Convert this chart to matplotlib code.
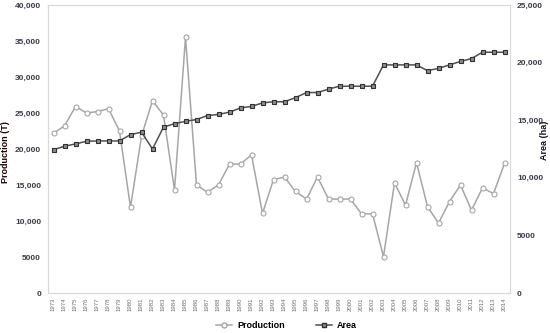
import matplotlib.pyplot as plt
from matplotlib.lines import Line2D

plt.rcParams['font.family'] = ['Liberation Sans', 'DejaVu Sans']

years = list(range(1973, 2015))

production = [22200, 23200, 25900, 25000, 25200, 25600, 22500, 11900, 21800, 26700,
              24700, 14300, 35500, 15000, 14000, 15000, 17900, 17900, 19200, 11050,
              15750, 16100, 14100, 13050, 16100, 13050, 13050, 13050, 11000, 11000,
              5050, 15300, 12200, 18100, 12000, 9700, 12700, 15000, 11500, 14600,
              13800, 18000]

area = [12440, 12740, 12940, 13170, 13200, 13200, 13200, 13750, 13960, 12500,
        14400, 14700, 14900, 15060, 15400, 15500, 15700, 16060, 16200, 16500,
        16600, 16600, 16960, 17400, 17400, 17700, 17950, 17950, 17950, 17950,
        19800, 19800, 19800, 19800, 19300, 19500, 19800, 20100, 20350, 20900,
        20900, 20900]

left_ticks = [0, 5000, 10000, 15000, 20000, 25000, 30000, 35000, 40000]
left_labels = ['0', '5000', '10,000', '15,000', '20,000', '25,000', '30,000', '35,000', '40,000']
right_ticks = [0, 5000, 10000, 15000, 20000, 25000]
right_labels = ['0', '5000', '10,000', '15,000', '20,000', '25,000']

prod_color = '#a6a6a6'
area_color = '#505050'
label_color = '#3a3a4a'

fig = plt.figure(figsize=(5.5, 3.33), dpi=100)
ax1 = fig.add_axes([48 / 550, 40 / 333, 462 / 550, 288 / 333])
ax2 = ax1.twinx()

ax1.plot(years, production, '-', color=prod_color, lw=1.1, marker='o', ms=3.6,
         mfc='white', mec=prod_color, mew=0.8, zorder=3)
ax2.plot(years, area, '-', color=area_color, lw=1.1, marker='s', ms=3.3,
         mfc='#8c8c8c', mec='#303030', mew=0.8, zorder=3)

ax1.set_xlim(1972.5, 2014.5)
ax1.set_ylim(0, 40000)
ax2.set_ylim(0, 25000)

ax1.set_xticks(years)
ax1.set_xticklabels([str(y) for y in years], rotation=90, fontsize=4.3, color='#707070')
ax1.set_yticks(left_ticks)
ax1.set_yticklabels(left_labels, fontsize=6, fontweight='bold', color=label_color)
ax2.set_yticks(right_ticks)
ax2.set_yticklabels(right_labels, fontsize=6, fontweight='bold', color=label_color)

for ax in (ax1, ax2):
    ax.tick_params(axis='y', length=0, pad=5)
    ax.tick_params(axis='x', length=0, pad=3)
    for s in ax.spines.values():
        s.set_color('#d9d9d9')
        s.set_linewidth(0.8)

ax1.set_ylabel('Production (T)', fontsize=6.5, fontweight='bold', color='#200000')
ax1.yaxis.set_label_coords(-0.083, 0.49)
ax2.set_ylabel('Area (ha)', fontsize=6.5, fontweight='bold', color='#101030')
ax2.yaxis.set_label_coords(1.064, 0.53)

handles = [
    Line2D([], [], color=prod_color, lw=1.1, marker='o', ms=3.6, mfc='white', mec=prod_color),
    Line2D([], [], color=area_color, lw=1.1, marker='s', ms=3.3, mfc='#8c8c8c', mec='#303030'),
]
fig.legend(handles, ['Production', 'Area'], loc='center', bbox_to_anchor=(0.521, 7 / 333),
           ncol=2, frameon=False, prop={'size': 6.5, 'weight': 'bold'}, handlelength=1.8,
           columnspacing=3.5, handletextpad=0.5)

fig.savefig('out.png', dpi=100)
